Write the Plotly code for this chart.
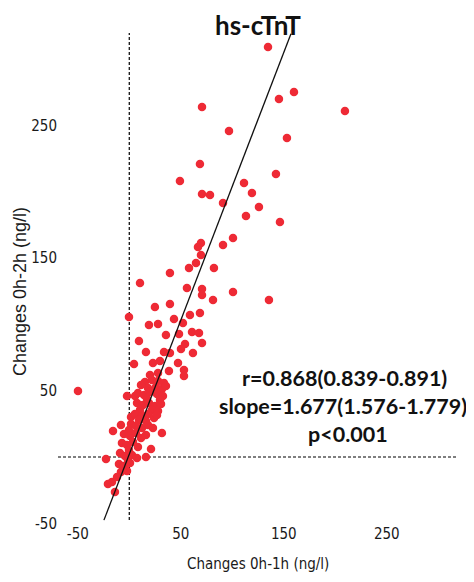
import plotly.graph_objects as go

# ---- data ----
chg_0h1h = [134.7, 159.9, 145.3, 209.4, 70.6, 96.8, 153.1, 68.6, 142.4, 49.2,
            111.4, 70.6, 78.4, 119.1, 91.0, 125.9, 113.3, 146.3, 100.7, 91.0,
            69.6, 66.7, 69.6, 64.8, 58.0, 82.2, 39.5, 10.4, 56.0, 70.6,
            70.6, 100.7, 81.3, 135.6, 24.9, 39.5, 68.6, 58.9, -0.3, 43.4,
            19.1, 27.9, 52.1, 60.9, 67.7, 35.6, 48.3, 9.4, 54.1, 70.6,
            50.2, 16.2, 33.7, 39.5, 61.8, 4.6, 23.0, 29.8, 47.3, 38.5,
            53.1, 20.1, 27.9, 53.1, -49.8, -2.2, 1.7, -15.8, -8.1, 31.7,
            21.1, -22.6, 16.2, -16.8, -20.7, -13.9, -6.1, 5.6,
            15.2, 22.0, 27.9, 33.7, 18.2, 25.9, 31.7, 35.6, 11.4, 8.4,
            14.3, 20.1, 26.9, 32.7, 17.2, 29.8, 7.5, 13.3, 19.1, 25.0,
            30.8, 10.4, 22.0, 27.9, 5.5, 12.3, 18.2, 24.0, 9.4, 16.2,
            26.9, 1.7, 6.5, 12.3, 18.2, 23.0, -0.3, -5.2, 0.7, 6.5,
            11.4, 16.2, -7.1, -2.2, 3.6, 8.4, -0.3, -9.0, -4.2, 2.6,
            7.5, -1.3, -10.0, -5.2, 0.7, -8.1, -2.2, -11.9]
chg_0h2h = [309.2, 275.3, 270.0, 260.9, 264.0, 245.9, 240.6, 221.0, 213.4, 208.1,
            206.6, 198.3, 197.6, 199.1, 191.6, 188.5, 181.7, 177.2, 165.2, 159.9,
            161.4, 158.4, 152.3, 146.3, 142.5, 142.5, 138.8, 131.2, 127.5, 126.7,
            122.2, 124.4, 118.4, 118.4, 113.1, 115.4, 108.6, 107.1, 105.6, 104.1,
            99.5, 100.3, 101.1, 94.3, 93.5, 92.0, 92.8, 87.5, 85.2, 86.0,
            81.4, 79.2, 79.2, 78.4, 78.4, 70.1, 70.9, 72.4, 70.9, 64.9,
            65.6, 61.8, 63.3, 61.1, 49.8, 46.0, 30.2, 19.6, 24.1, 18.1,
            6.0, -1.5, 0.0, -18.9, -20.4, -26.4, -9.8, 46.0,
            56.6, 58.1, 57.3, 55.8, 52.0, 52.8, 51.3, 53.5, 54.3, 48.3,
            46.8, 49.0, 47.5, 46.0, 43.7, 43.0, 40.7, 39.2, 40.7, 38.5,
            40.0, 35.4, 35.4, 34.7, 32.4, 30.9, 32.4, 29.4, 27.9, 27.1,
            31.7, 24.9, 23.4, 21.9, 24.1, 21.9, 20.4, 17.3, 15.8, 18.1,
            14.3, 16.6, 10.6, 9.0, 11.3, 7.5, 5.3, 3.0, 0.8, 1.5,
            -0.8, -2.3, -5.3, -6.8, -4.5, -11.3, -10.6, -15.1]

fit_x = [-24.6, 157.0]
fit_slope = 2.02
fit_intercept = 2.1
fit_y = [fit_intercept + fit_slope * v for v in fit_x]

tick_vals = [-50, 50, 150, 250]
tick_text = ["-50", "50", "150", "250"]

stats_lines = ["r=0.868(0.839-0.891)", "slope=1.677(1.576-1.779)", "p<0.001"]

# ---- figure ----
# the page body has an 8px margin; size the figure so it fits the 474x582 window
OFF = 8
W, H = 474 - 2 * OFF, 582 - 2 * OFF
L, R, T, B = 50, 6, 22, 44
pw, ph = W - L - R, H - T - B

fig = go.Figure()

dot_style = dict(color="black", width=1.2, dash="3px,2px")
fig.add_trace(go.Scatter(x=[0, 0], y=[-47.5, 319.7], mode="lines",
                         line=dot_style, hoverinfo="skip", showlegend=False))
fig.add_trace(go.Scatter(x=[-69.2, 318.0], y=[0, 0], mode="lines",
                         line=dot_style, hoverinfo="skip", showlegend=False))

fig.add_trace(go.Scatter(x=chg_0h1h, y=chg_0h2h, mode="markers",
                         marker=dict(color="#ee2a35", size=8.5, line=dict(width=0)),
                         showlegend=False))

fig.add_trace(go.Scatter(x=fit_x, y=fit_y, mode="lines",
                         line=dict(color="#111111", width=1.3),
                         showlegend=False))

narrow = "Liberation Sans Narrow, Arial Narrow, DejaVu Sans Condensed, sans-serif"
tick_font = dict(family=narrow, size=15, color="#1a1a1a")

fig.update_xaxes(range=[-69.2, 321.1], tickvals=tick_vals, ticktext=tick_text,
                 showgrid=False, zeroline=False, showline=False, ticks="",
                 tickfont=tick_font, anchor="free", position=0.015, automargin=False)
fig.update_yaxes(range=[-55.05, 322.0], tickvals=tick_vals, ticktext=tick_text,
                 showgrid=False, zeroline=False, showline=False, ticks="",
                 tickfont=tick_font, automargin=False)

def px2paper(px, py):
    return (px - OFF - L) / pw, (H - B - (py - OFF)) / ph

annots = []
tx, ty = px2paper(258, 25)
annots.append(dict(text="<b>hs-cTnT</b>", x=tx, y=ty, xref="paper", yref="paper",
                   showarrow=False, xanchor="center", yanchor="middle",
                   font=dict(family="Lato, Open Sans, sans-serif", size=26, color="#111111")))
for txt, (cx, cy) in zip(stats_lines, [(344, 378), (343, 406), (348, 434)]):
    ax, ay = px2paper(cx, cy)
    annots.append(dict(text="<b>" + txt + "</b>", x=ax, y=ay, xref="paper", yref="paper",
                       showarrow=False, xanchor="center", yanchor="middle",
                       font=dict(family="Lato, Open Sans, sans-serif", size=21.5, color="#111111")))
ax, ay = px2paper(258, 564)
annots.append(dict(text="Changes 0h-1h (ng/l)", x=ax, y=ay, xref="paper", yref="paper",
                   showarrow=False, xanchor="center", yanchor="middle",
                   font=dict(family=narrow, size=15, color="#1a1a1a")))
ax, ay = px2paper(20, 292)
annots.append(dict(text="Changes 0h-2h (ng/l)", x=ax, y=ay, xref="paper", yref="paper",
                   showarrow=False, xanchor="center", yanchor="middle", textangle=-90,
                   font=dict(family="Liberation Sans, Arial, sans-serif", size=18, color="#1a1a1a")))

fig.update_layout(width=W, height=H, margin=dict(l=L, r=R, t=T, b=B, autoexpand=False),
                  paper_bgcolor="white", plot_bgcolor="white",
                  annotations=annots, showlegend=False)

fig.write_html("out.html")
